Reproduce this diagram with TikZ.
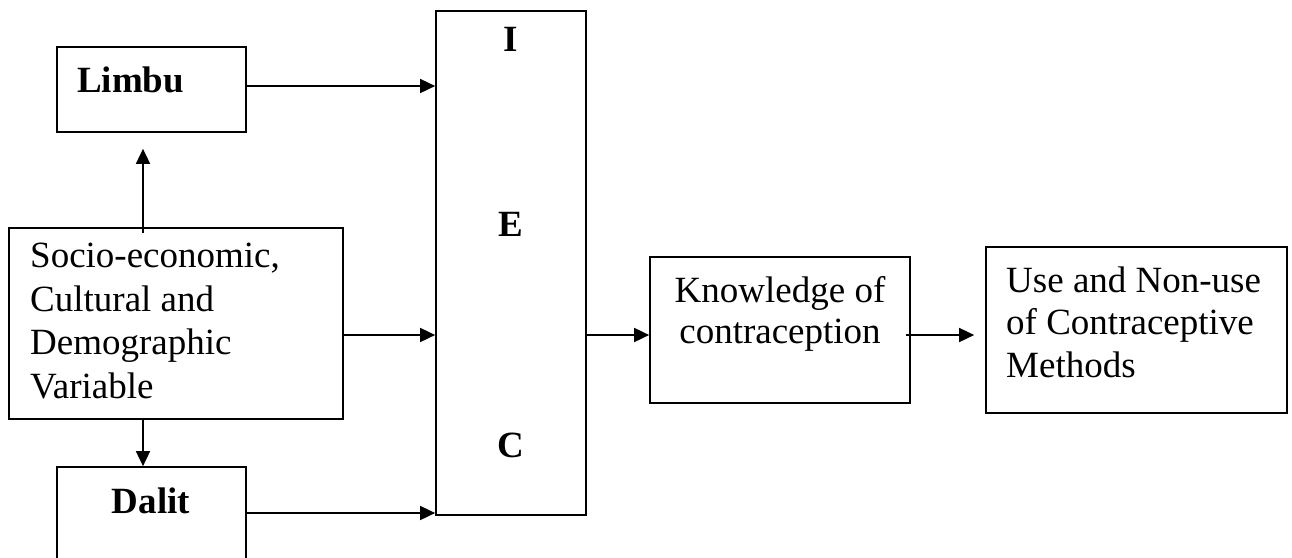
\documentclass[tikz,border=0pt]{standalone}
\usepackage{fontspec}
\setmainfont{Liberation Serif}
\usetikzlibrary{arrows.meta}

\tikzset{
  box/.style={draw, line width=1.7pt, inner sep=0pt},
  txt/.style={inner sep=0pt, align=left, font=\fontsize{37}{42.5}\selectfont},
  bold/.style={inner sep=0pt, font=\fontsize{37}{42.5}\selectfont\bfseries},
  arr/.style={line width=1.7pt, -{Triangle[length=15pt, width=14pt]}}
}

\begin{document}
\begin{tikzpicture}[x=1pt, y=-1pt]
    \clip (0,0) rectangle (1292,557);

    % Boxes
    \node[box, minimum width=189pt, minimum height=85pt]  (limbu) at (151.5,89.5) {};
    \node[box, minimum width=334pt, minimum height=191pt] (socio) at (176,323.5) {};
    \node[box, minimum width=189pt, minimum height=120pt] (dalit) at (151.5,527) {};
    \node[box, minimum width=150pt, minimum height=504pt] (iec)   at (511,263) {};
    \node[box, minimum width=260pt, minimum height=146pt] (know)  at (780,330) {};
    \node[box, minimum width=301pt, minimum height=166pt] (use)   at (1136.5,330) {};

    % Texts (base anchor = baseline of the last line)
    \node[bold, anchor=base west] (limbu-t) at (77,92) {Limbu};
    \node[bold, anchor=base] (dalit-t) at (151,513) {Dalit};
    \node[txt, anchor=base west, font=\fontsize{37}{43.5}\selectfont] (socio-t) at (30,398)
        {Socio-economic,\\Cultural and\\Demographic\\Variable};
    \node[bold, anchor=base] (iec-i) at (511,51) {I};
    \node[bold, anchor=base] (iec-e) at (511,236) {E};
    \node[bold, anchor=base] (iec-c) at (511,457) {C};
    \node[txt, align=center, anchor=base, font=\fontsize{37}{41}\selectfont] (know-t) at (780,343)
        {Knowledge of\\contraception};
    \node[txt, anchor=base west] (use-t) at (1006,377)
        {Use and Non-use\\of Contraceptive\\Methods};

    % Rows and column of the connectors
    \coordinate (col) at (143,0);
    \coordinate (rowl) at (0,86);
    \coordinate (rowm) at (0,335);
    \coordinate (rowd) at (0,513);

    % Connectors
    \draw[arr, shorten <=-6pt, shorten >=16pt] (socio.north -| col) -- (limbu.south -| col);
    \draw[arr] (socio.south -| col) -- (dalit.north -| col);
    \draw[arr] (limbu.east |- rowl) -- (iec.west |- rowl);
    \draw[arr] (socio.east |- rowm) -- (iec.west |- rowm);
    \draw[arr] (dalit.east |- rowd) -- (iec.west |- rowd);
    \draw[arr] (iec.east |- rowm) -- (know.west |- rowm);
    \draw[arr, shorten <=-5pt, shorten >=11pt] (know.east |- rowm) -- (use.west |- rowm);
\end{tikzpicture}
\end{document}
